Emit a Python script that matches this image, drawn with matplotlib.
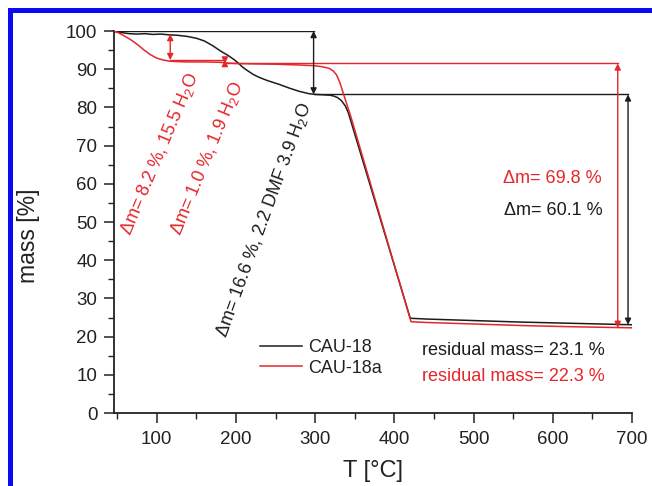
import matplotlib
matplotlib.use("Agg")
import matplotlib.pyplot as plt
from matplotlib.patches import Rectangle
from matplotlib.ticker import MultipleLocator

plt.rcParams['font.family'] = ['Liberation Sans', 'DejaVu Sans']
plt.rcParams['mathtext.fontset'] = 'custom'
plt.rcParams['mathtext.rm'] = 'Liberation Sans'
plt.rcParams['mathtext.it'] = 'Liberation Sans:italic'
plt.rcParams['mathtext.bf'] = 'Liberation Sans:bold'

# ---- data ----
series_names = ["CAU-18", "CAU-18a"]

t_cau18 = [46, 55, 65, 75, 85, 95, 105, 115, 125, 138, 150, 160, 171, 181, 190, 197,
           203, 208, 214, 222, 230, 240, 255, 268, 280, 292, 300, 310, 318, 323, 328,
           333, 338, 342, 420, 440, 500, 560, 620, 700]
m_cau18 = [99.9, 99.6, 99.3, 99.2, 99.3, 99.1, 99.2, 99.0, 98.9, 98.6, 98.1, 97.4,
           96.1, 94.7, 93.6, 92.6, 91.6, 90.6, 89.7, 88.6, 87.8, 87.0, 86.0, 85.0,
           84.2, 83.6, 83.4, 83.3, 83.2, 83.0, 82.6, 81.8, 80.4, 78.5, 24.8, 24.6,
           24.2, 23.8, 23.5, 23.1]

t_cau18a = [46, 52, 60, 68, 76, 84, 92, 100, 108, 116, 125, 140, 160, 180, 190, 200,
            220, 250, 280, 300, 310, 318, 323, 327, 331, 335, 340, 345, 421, 440, 500,
            560, 620, 700]
m_cau18a = [100.0, 99.5, 98.6, 97.6, 96.4, 95.0, 93.8, 92.9, 92.4, 92.1, 92.0, 91.9,
            91.9, 91.8, 91.6, 91.5, 91.4, 91.3, 91.1, 90.9, 90.6, 90.2, 89.5, 88.5,
            86.6, 84.0, 80.8, 77.6, 23.9, 23.7, 23.3, 22.9, 22.6, 22.3]

# annotation levels
black_top, black_step, black_res = 100.0, 83.4, 23.1
red_top, red_step1, red_step2, red_res = 99.2, 92.4, 91.5, 22.3
x_black_arrow1, x_black_arrow2 = 298, 695
x_red_arrow1, x_red_arrow2, x_red_arrow3 = 117, 186, 682

x_ticks = [100, 200, 300, 400, 500, 600, 700]
y_ticks = [0, 10, 20, 30, 40, 50, 60, 70, 80, 90, 100]

BLACK = '#1c1c1c'
RED = '#e5262b'

W, H = 652, 486
fig = plt.figure(figsize=(W / 100, H / 100), dpi=100)
ax = fig.add_axes([114 / W, 1 - 413 / H, (632 - 114) / W, (413 - 31) / H])

ax.plot(t_cau18, m_cau18, color=BLACK, lw=1.1, label=series_names[0], zorder=3)
ax.plot(t_cau18a, m_cau18a, color=RED, lw=1.1, label=series_names[1], zorder=3)

ax.set_xlim(46, 700)
ax.set_ylim(0, 100)
ax.set_xticks(x_ticks)
ax.set_yticks(y_ticks)
ax.xaxis.set_minor_locator(MultipleLocator(50))
ax.yaxis.set_minor_locator(MultipleLocator(5))
ax.tick_params(which='major', direction='out', length=7, width=1.1, labelsize=13.5,
               colors='#222222')
ax.tick_params(which='minor', direction='out', length=4, width=1.0, colors='#222222')
ax.tick_params(axis='y', pad=5)
ax.tick_params(axis='x', pad=6)
for s in ['top', 'right']:
    ax.spines[s].set_visible(False)
for s in ['left', 'bottom']:
    ax.spines[s].set_linewidth(1.3)
    ax.spines[s].set_color('#222222')


def hline(y, x0, x1, c):
    ax.plot([x0, x1], [y, y], color=c, lw=1.0, zorder=2)


def darrow(x, y0, y1, c):
    ax.annotate('', xy=(x, y1), xytext=(x, y0),
                arrowprops=dict(arrowstyle='<|-|>', color=c, lw=1.0,
                                shrinkA=0, shrinkB=0, mutation_scale=9),
                zorder=4)


# black annotation lines
hline(black_top, 46, x_black_arrow1, BLACK)
darrow(x_black_arrow1, black_top, black_step, BLACK)
hline(black_step, x_black_arrow1, x_black_arrow2, BLACK)
darrow(x_black_arrow2, black_step, black_res, BLACK)

# red annotation lines
darrow(x_red_arrow1, red_top, red_step1, RED)
hline(red_step1, x_red_arrow1, x_red_arrow2, RED)
darrow(x_red_arrow2, red_step1, red_step2, RED)
hline(red_step2, x_red_arrow2, x_red_arrow3, RED)
darrow(x_red_arrow3, red_step2, red_res, RED)

# rotated labels
fs = 13
ax.text(67.2, 46.2, 'Δm= 8.2 %, 15.5 H$_2$O', color=RED, fontsize=fs, rotation=67,
        rotation_mode='anchor', ha='left', va='baseline')
ax.text(130.3, 46.2, 'Δm= 1.0 %, 1.9 H$_2$O', color=RED, fontsize=fs, rotation=67.5,
        rotation_mode='anchor', ha='left', va='baseline')
ax.text(188.3, 19.6, 'Δm= 16.6 %, 2.2 DMF 3.9 H$_2$O', color=BLACK, fontsize=fs,
        rotation=70, rotation_mode='anchor', ha='left', va='baseline')

ax.text(537, 60.2, 'Δm= 69.8 %', color=RED, fontsize=fs, ha='left', va='baseline')
ax.text(538, 51.8, 'Δm= 60.1 %', color=BLACK, fontsize=fs, ha='left', va='baseline')
ax.text(434.5, 15.2, 'residual mass= 23.1 %', color=BLACK, fontsize=fs, ha='left',
        va='baseline')
ax.text(434.5, 8.4, 'residual mass= 22.3 %', color=RED, fontsize=fs, ha='left',
        va='baseline')

leg = ax.legend(loc='upper left', bbox_to_anchor=((260 - 114) / 518, (413 - 339) / 382),
                frameon=False, fontsize=13, handlelength=2.3, handletextpad=0.35,
                borderpad=0, borderaxespad=0, labelspacing=0.2)
for txt in leg.get_texts():
    txt.set_color('#222222')

fig.text(373 / W, 1 - 471 / H, 'T [°C]', fontsize=17, ha='center', va='center',
         color='#222222')
fig.text(28 / W, 1 - 236 / H, 'mass [%]', fontsize=16.5, rotation=90, ha='center',
         va='center', color='#222222')

# blue frame
BLUE = '#0a0af5'
fig.add_artist(Rectangle((8 / W, 1 - 13 / H), 1, 5 / H, transform=fig.transFigure,
                         color=BLUE, lw=0))
fig.add_artist(Rectangle((8 / W, 0), 5 / W, 1 - 8 / H, transform=fig.transFigure,
                         color=BLUE, lw=0))

fig.savefig('out.png', dpi=100)
